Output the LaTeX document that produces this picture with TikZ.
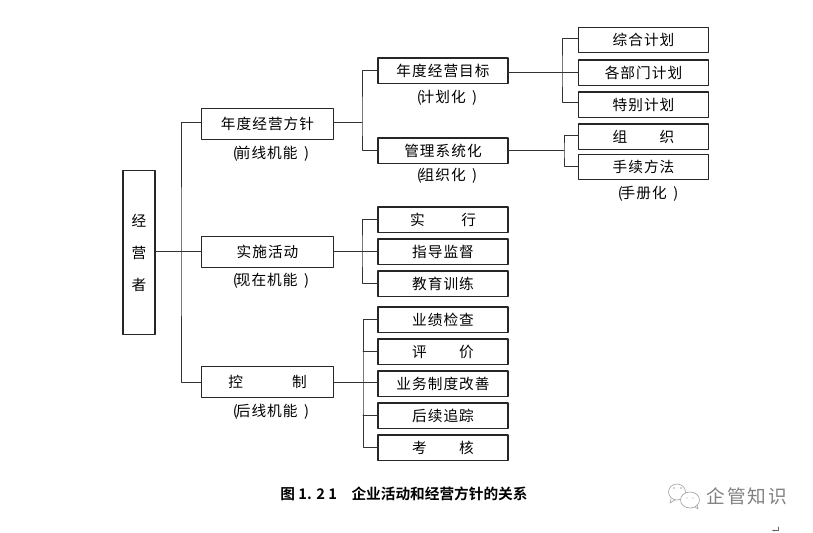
\documentclass[tikz,border=0pt]{standalone}
\usepackage{fontspec}
\setmainfont{Noto Sans CJK SC}[LetterSpace=7]
\newfontfamily\capfont{Noto Sans CJK SC}[BoldFont={Noto Sans CJK SC Bold}]
\newfontfamily\markfont{Noto Sans CJK SC}[LetterSpace=10]
\usetikzlibrary{arrows.meta,positioning,calc}

\tikzset{
  box/.style={draw=black!85, line width=0.8pt, inner sep=0pt, font=\fontsize{11}{13}\selectfont},
  midbox/.style={box, minimum width=98.5pt, minimum height=23.5pt},
  subbox/.style={box, minimum width=97.5pt, minimum height=18.8pt},
  note/.style={inner sep=0pt, font=\fontsize{11}{13}\selectfont},
  link/.style={draw=black!80, line width=0.75pt},
}
\newcommand{\tightopen}{(\hspace{-0.14em}}
\newcommand{\wideclose}{\hspace{0.15em} )}

\begin{document}
\begin{tikzpicture}[x=0.75pt, y=-0.75pt, >=Stealth, line cap=round, line join=round]
\useasboundingbox (0,0) rectangle (813,532);

% head box
\node[box, minimum width=24pt, minimum height=122.5pt, align=center, font=\fontsize{11}{24}\selectfont] (head) at (139,252.5) {经\\营\\者};

% middle column
\node[midbox] (front) at (267.5,124) {年度经营方针};
\node[midbox] (now) at (267.5,252) {实施活动};
\node[midbox] (ctrl) at (267.5,382) {控\hspace{3.35em}制};
\node[note] (frontn) at (271,154) {\tightopen 前线机能\wideclose};
\node[note] (nown) at (271,281) {\tightopen 现在机能\wideclose};
\node[note] (ctrln) at (271,412) {\tightopen 后线机能\wideclose};

% third column
\foreach \name/\y/\label in {goal/70.5/年度经营目标,sys/150.5/管理系统化,act/219.5/实\hspace{2.5em}行,guide/251.5/指导监督,train/283.5/教育训练,
    check/319.5/业绩检查,eval/351.5/评\hspace{2.2em}价,reform/383.5/业务制度改善,follow/415.5/后续追踪,exam/447.5/考\hspace{2.2em}核}{
  \node[subbox] (\name) at (443,\y) {\label};
}
\node[note] (goaln) at (447,98) {\tightopen 计划化\wideclose};
\node[note] (sysn) at (447,176) {\tightopen 组织化\wideclose};

% right column
\foreach \name/\y/\label in {plana/40/综合计划,planb/72.5/各部门计划,planc/104.5/特别计划,org/136.5/组\hspace{2.2em}织,hand/167/手续方法}{
  \node[subbox] (\name) at (643.5,\y) {\label};
}
\node[note] (handn) at (648,194) {\tightopen 手册化\wideclose};

% trunk from the head box
\coordinate (trunk) at (181,251);
\draw[link] (head.east |- trunk) -- (now.west |- trunk);
\draw[link] (front.west |- 0,122) -| (trunk) |- (ctrl.west);

% branches of the upper box
\coordinate (jgoal) at (362,122);
\draw[link] (front.east |- jgoal) -- (jgoal);
\draw[link] (goal.west) -| (jgoal) |- (sys.west);

% branches of the two lower boxes
\coordinate (jnow) at (362,251);
\draw[link] (now.east |- jnow) -- (guide.west |- jnow);
\draw[link] (act.west) -| (jnow) |- (train.west);
\coordinate (jctrl) at (363,382);
\draw[link] (ctrl.east) -- (reform.west |- jctrl);
\draw[link] (check.west) -| (jctrl) |- (exam.west);
\draw[link] (jctrl |- eval.west) -- (eval.west);
\draw[link] (jctrl |- follow.west) -- (follow.west);

% plans and organisation
\coordinate (jplan) at (562,72);
\draw[link] (goal.east |- jplan) -- (planb.west |- jplan);
\draw[link] (plana.west |- 0,38) -| (jplan) |- (planc.west |- 0,102);
\coordinate (jorg) at (564,150);
\draw[link] (sys.east |- jorg) -- (jorg);
\draw[link] (org.west |- 0,135) -| (jorg) |- (hand.west |- 0,166);

% caption
\node[inner sep=0pt, font=\capfont\bfseries\fontsize{11}{13}\selectfont] (caption) at (404,494) {图 1. 2 1\hspace{1em}企业活动和经营方针的关系};

% logo and name at the corner
\begin{scope}[draw=black!35, line width=0.5pt]
  \draw (677,492) ellipse (8.5 and 8);
  \draw (671,499) -- (670,503) -- (675,500);
  \fill[white] (690,500) ellipse (9.5 and 8);
  \draw (690,500) ellipse (9.5 and 8);
  \draw (695,507) -- (698,509) -- (697,505);
  \fill[black!35] (674,488) circle (0.8) (681,488) circle (0.8) (687,498) circle (0.7) (693,498) circle (0.7);
\end{scope}
\node[inner sep=0pt, font=\markfont\fontsize{14}{16}\selectfont, text=black!50] (brand) at (747,496) {企管知识};
\draw[black!60, line width=0.5pt, -{Stealth[length=2pt]}] (778,527) -- (778,530.5) -- (772,530.5);

\end{tikzpicture}
\end{document}
